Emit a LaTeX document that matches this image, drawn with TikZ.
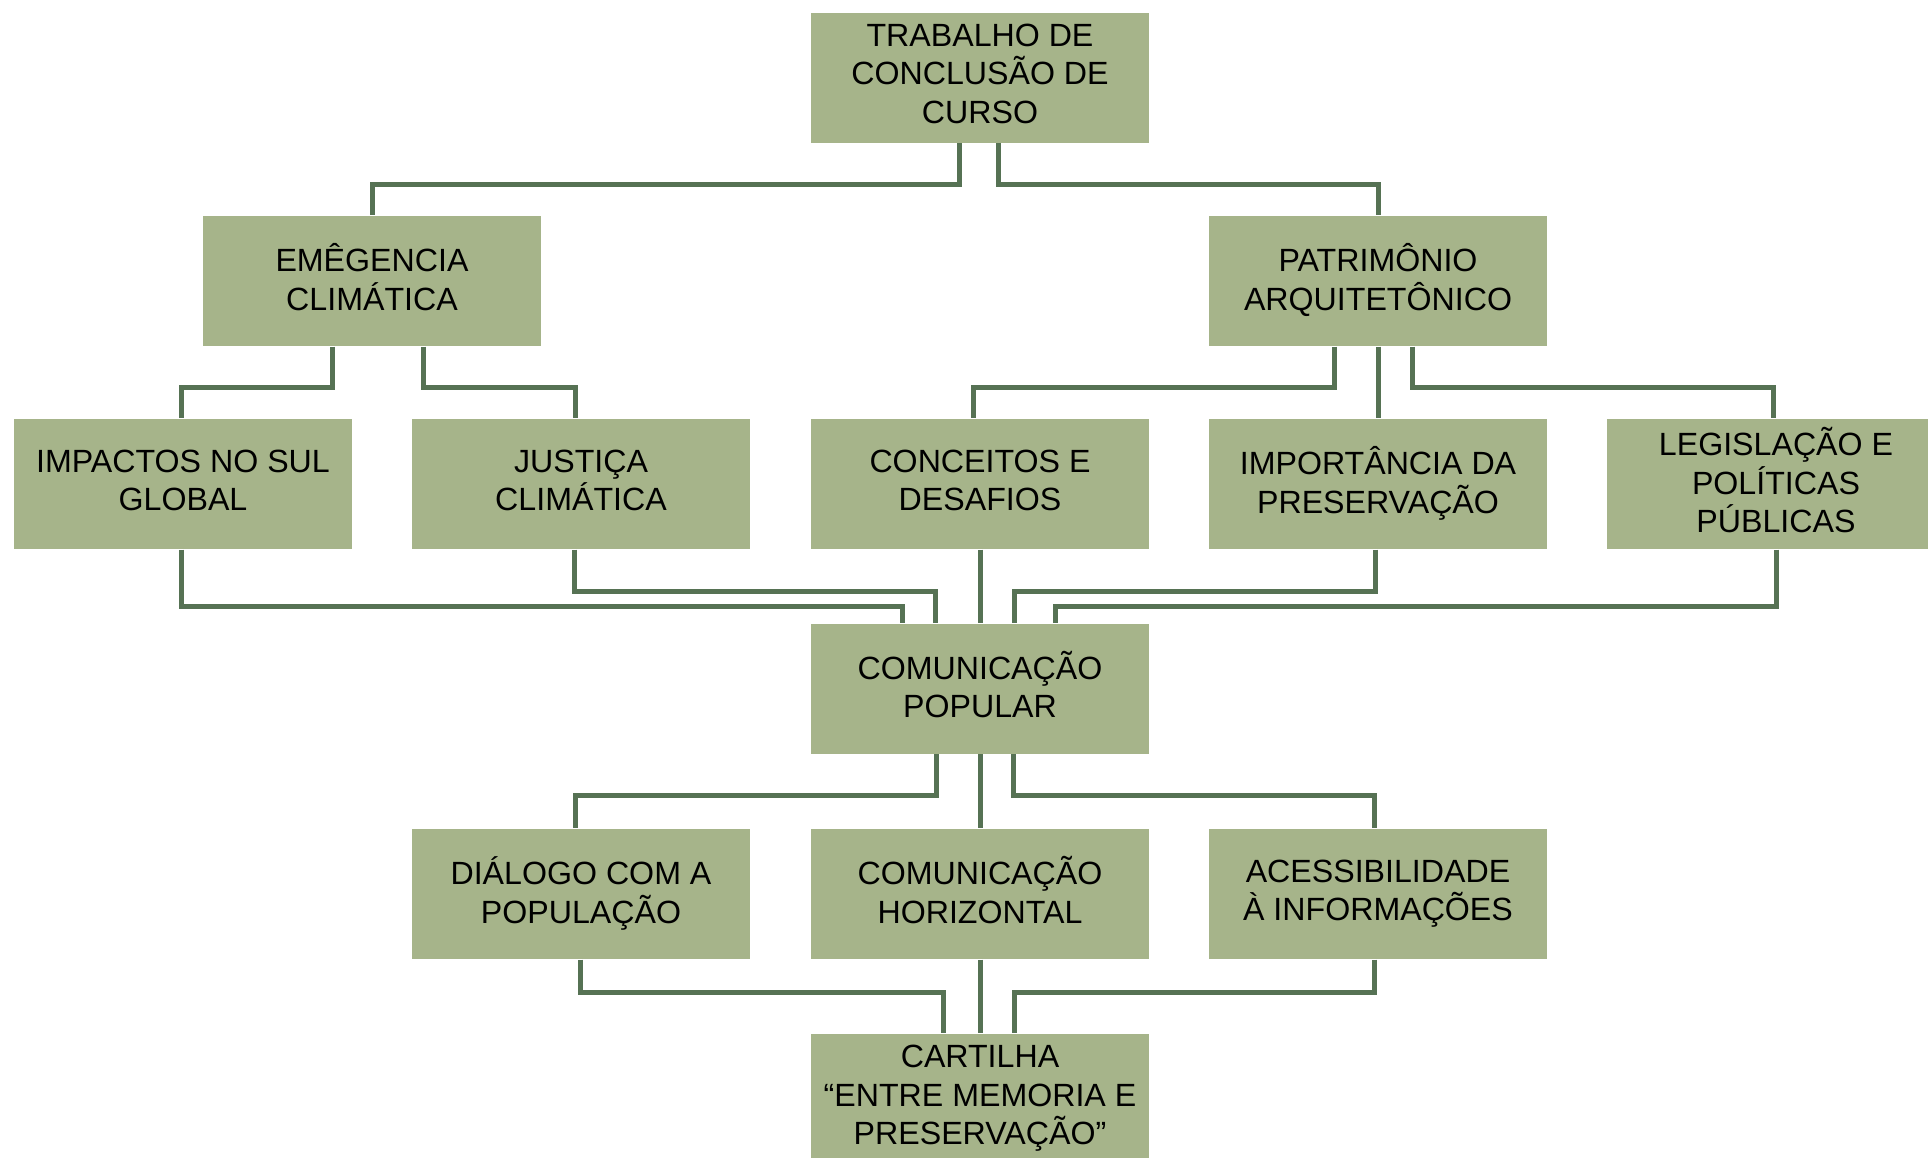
\documentclass[tikz,border=0pt]{standalone}
\usepackage{fontspec}
\setmainfont{Liberation Sans}
\usepackage{xcolor}
\usepackage{tikz}
\definecolor{oliva}{RGB}{166,180,138}
\definecolor{verde}{RGB}{86,114,84}
\tikzstyle{box}=[fill=oliva, draw=none, rectangle, inner sep=0mm, minimum width=3.38cm, minimum height=1.3cm, align=center, font=\fontsize{9.15}{10.9}\selectfont,
  execute at begin node={\rule{0pt}{0.33cm}}, execute at end node={\rule[-0.08cm]{0pt}{0pt}}]
\tikzstyle{link}=[draw=verde, line width=0.05cm]

\begin{document}
\begin{tikzpicture}
\clip (0,0) rectangle (19.28,-11.57);
\node[box] (tcc) at (9.80,-0.775) {TRABALHO DE\\CONCLUSÃO DE\\CURSO};
\node[box] (clima) at (3.72,-2.81) {EMÊGENCIA\\CLIMÁTICA};
\node[box] (patr) at (13.78,-2.81) {PATRIMÔNIO\\ARQUITETÔNICO};
\node[box] (sul) at (1.83,-4.84) {IMPACTOS NO SUL\\GLOBAL};
\node[box] (just) at (5.81,-4.84) {JUSTIÇA\\CLIMÁTICA};
\node[box] (conc) at (9.80,-4.84) {CONCEITOS E\\DESAFIOS};
\node[box] (pres) at (13.78,-4.84) {IMPORTÂNCIA DA\\PRESERVAÇÃO};
\node[box] (leg) at (17.76,-4.84) {LEGISLAÇÃO E\\POLÍTICAS\\PÚBLICAS};
\node[box] (com) at (9.80,-6.885) {COMUNICAÇÃO\\POPULAR};
\node[box] (dial) at (5.81,-8.94) {DIÁLOGO COM A\\POPULAÇÃO};
\node[box] (horiz) at (9.80,-8.94) {COMUNICAÇÃO\\HORIZONTAL};
\node[box] (acess) at (13.78,-8.94) {ACESSIBILIDADE\\À INFORMAÇÕES};
\node[box] (cart) at (9.80,-10.99) {CARTILHA\\“ENTRE MEMORIA E\\PRESERVAÇÃO”};
% elbows: from / shift / drop / to / shift
\foreach \f/\a/\d/\t/\b in {tcc/-0.21/0.41/clima/0, tcc/0.18/0.41/patr/0,
    clima/-0.40/0.41/sul/-0.02, clima/0.51/0.41/just/-0.06,
    patr/-0.44/0.41/conc/-0.07, patr/0.34/0.41/leg/-0.03,
    sul/-0.02/0.57/com/-0.78, just/-0.07/0.42/com/-0.45,
    pres/-0.03/0.42/com/0.34, leg/0/0.57/com/0.75,
    com/-0.44/0.41/dial/-0.06, com/0.33/0.41/acess/-0.04,
    dial/-0.01/0.33/cart/-0.37, acess/-0.04/0.33/cart/0.34}
  \draw[link] ([xshift=\a cm]\f.south) -- ++(0,-\d) -| ([xshift=\b cm]\t.north);
\foreach \f/\t in {patr/pres, conc/com, com/horiz, horiz/cart}
  \draw[link] (\f) -- (\t);
\end{tikzpicture}
\end{document}
